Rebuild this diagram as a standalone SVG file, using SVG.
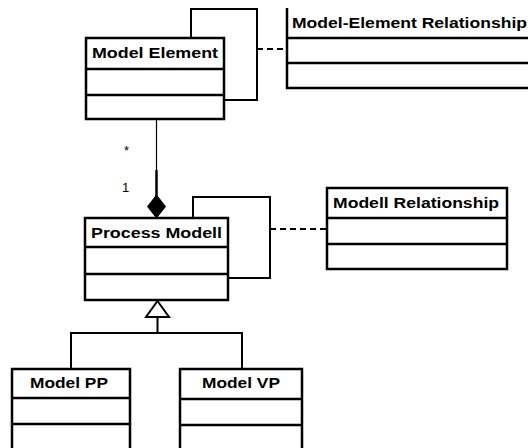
<svg xmlns="http://www.w3.org/2000/svg" width="528" height="448" viewBox="0 0 528 448">
<style>
.box{fill:#fff;stroke:#000;stroke-width:2.5}
.div{stroke:#000;stroke-width:2.5}
.t{font-family:"Liberation Sans",Arial,sans-serif;font-weight:bold;font-size:14.5px;fill:#000}
.m{font-family:"Liberation Sans",Arial,sans-serif;font-size:13px;fill:#000}
.ln{fill:none;stroke:#000;stroke-width:2}
.dash{fill:none;stroke:#000;stroke-width:2;stroke-dasharray:6,4}
</style>
<rect width="528" height="448" fill="#fff"/>
<g id="connectors">
<path class="ln" d="M191,38 V9 H257 V100 H224"/>
<path class="dash" d="M257,49 H287"/>
<path class="ln" d="M193,218 V197 H270 V278 H228"/>
<path class="dash" d="M270,229 H327"/>
<path d="M156.5,119 V170" stroke="#000" stroke-width="1.2" fill="none"/>
<path d="M156.5,170 V197" stroke="#000" stroke-width="2.5" fill="none"/>
<path d="M156.5,195 L165.5,206.5 L156.5,218 L147.5,206.5 Z" fill="#000" stroke="#000" stroke-width="1"/>
<path d="M157.5,301 L169,317 L146,317 Z" fill="#fff" stroke="#000" stroke-width="2"/>
<path class="ln" d="M157.5,317 V333 M71,333 H242 M71,332 V369 M242,332 V369"/>
<text class="m" x="124" y="155">*</text>
<text class="m" x="122" y="192">1</text>
</g>
<g id="model-element">
<rect class="box" x="86" y="38" width="138" height="81"/>
<path class="div" d="M86,69 H224 M86,95 H224"/>
<text class="t" x="92" y="58" textLength="126" lengthAdjust="spacingAndGlyphs">Model Element</text>
</g>
<g id="model-element-relationship">
<path class="box" d="M287,8 V88 H540 V8"/>
<path class="div" d="M287,38 H540 M287,63 H540"/>
<text class="t" x="292" y="28" textLength="235" lengthAdjust="spacingAndGlyphs">Model-Element Relationship</text>
</g>
<g id="process-modell">
<rect class="box" x="85" y="218" width="143" height="82"/>
<path class="div" d="M85,247 H228 M85,274 H228"/>
<text class="t" x="91" y="238" textLength="131" lengthAdjust="spacingAndGlyphs">Process Modell</text>
</g>
<g id="modell-relationship">
<rect class="box" x="327" y="188" width="180" height="81"/>
<path class="div" d="M327,218 H507 M327,244 H507"/>
<text class="t" x="333" y="208" textLength="166" lengthAdjust="spacingAndGlyphs">Modell Relationship</text>
</g>
<g id="model-pp">
<path class="box" d="M12,460 V369 H130 V460"/>
<path class="div" d="M12,398 H130 M12,424 H130"/>
<text class="t" x="30" y="388" textLength="78" lengthAdjust="spacingAndGlyphs">Model PP</text>
</g>
<g id="model-vp">
<path class="box" d="M180,460 V369 H302 V460"/>
<path class="div" d="M180,399 H302 M180,425 H302"/>
<text class="t" x="202" y="388" textLength="78" lengthAdjust="spacingAndGlyphs">Model VP</text>
</g>
</svg>
